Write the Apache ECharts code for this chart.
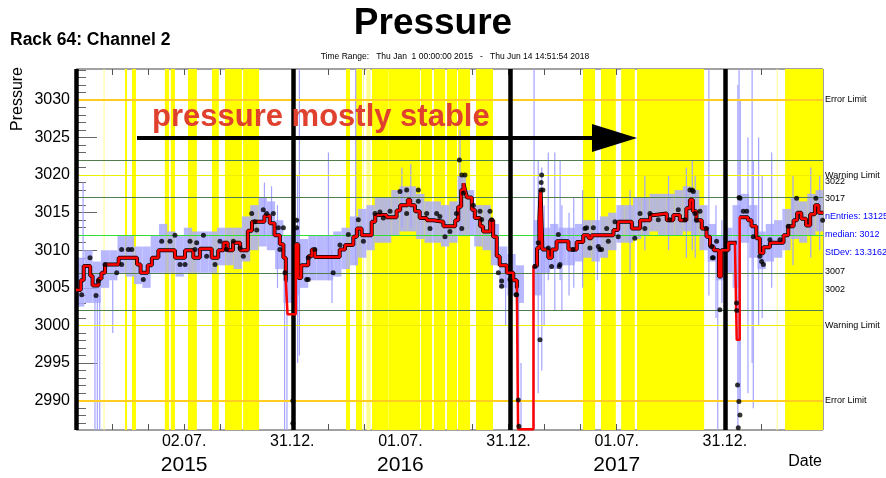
<!DOCTYPE html>
<html>
<head>
<meta charset="utf-8">
<script src="https://cdn.jsdelivr.net/npm/echarts@6/dist/echarts.min.js"></script>
<style>
html, body { margin: 0; padding: 0; background: #fff; }
#chart { width: 886px; height: 478px; }
</style>
</head>
<body>
<div id="chart"></div>
<script>
// x values are days since Thu Jan 1 2015
const X_MAX = 1260.62
const Y_MIN = 2986.1
const Y_MAX = 3034.1

const xLabelDays = [182.5, 365, 547.5, 730, 912.5, 1095]
const xLabelDates = ['02.07.', '31.12.', '01.07.', '31.12.', '01.07.', '31.12.']
const xLabelYears = ['2015', '', '2016', '', '2017', '']
const yLabels = [2990, 2995, 3000, 3005, 3010, 3015, 3020, 3025, 3030]

const errorLimits = [3030, 2990]
const warningLimits = [3020, 3000]
const levelLines = [3022, 3017, 3007, 3002]
const medianLine = 3012
const yearLineDays = [1, 366, 732, 1096]

// yellow periods [start, end]
const yellowBands = [[82.7, 86.1], [94.5, 101.3], [150, 157], [160, 167], [189, 204], [229.5, 241],
  [251.5, 280], [282, 309], [455.6, 462.4], [472.5, 482.6], [499.5, 526.5], [527, 580.5], [582, 601],
  [604, 623], [626, 643], [644.7, 665], [675, 703.7], [855.6, 876], [886, 911], [920, 943],
  [946.8, 1060], [1196.6, 1261]]
const paleBands = [[46.5, 48], [484, 486], [490, 497], [1182.5, 1184]]

// smoothed pressure (red step line) [day, value]
const redSteps = [[0, 3004.7], [8, 3006], [13, 3007.9], [24, 3006.6], [28, 3005.3], [38, 3006.2], [43, 3007],
  [49, 3008.1], [72, 3009], [103, 3008.1], [109, 3007], [121, 3008], [128, 3009], [139, 3010], [167, 3009],
  [184, 3010], [198, 3009], [209, 3010.2], [229, 3009], [240, 3010], [249, 3011], [256, 3010], [265, 3011],
  [277, 3010], [290, 3012.6], [297, 3013.8], [318, 3014.6], [327, 3013.6], [335, 3012], [344, 3010.8],
  [350, 3009], [354, 3006], [357, 3001.5], [371, 3010.8], [375, 3006.3], [380, 3008], [392, 3009.2],
  [398, 3010.1], [403, 3009.1], [445, 3010.1], [454, 3010.7], [468, 3011.8], [474, 3012.9], [482, 3012],
  [499, 3013.8], [505, 3014.7], [524, 3014.4], [541, 3015.3], [547, 3016], [560, 3016.7], [564, 3016],
  [572, 3015.2], [580, 3014.3], [592, 3014], [603, 3013.8], [620, 3013.2], [640, 3014], [645, 3015.8],
  [650, 3018], [654, 3018.9], [657, 3017.8], [660, 3017], [668, 3015.4], [673, 3014.3], [682, 3013.2],
  [687, 3012.5], [699, 3014], [704, 3011.8], [710, 3009.2], [715, 3008], [727, 3007], [738, 3006],
  [744, 3005], [746, 2986.2], [772, 3007.9], [778, 3010.3], [782, 3014.1], [784, 3018], [787, 3010.1],
  [797, 3009], [803, 3010.1], [811, 3011.2], [831, 3010.1], [845, 3011.1], [856, 3012], [865, 3011.6],
  [870, 3012], [907, 3012.7], [915, 3013.8], [938, 3012.9], [952, 3014], [969, 3014.7], [977, 3014.9],
  [997, 3014], [1008, 3014.7], [1019, 3014], [1030, 3015.6], [1036, 3016.7], [1041, 3015.2], [1047, 3014],
  [1056, 3012.9], [1064, 3011.8], [1070, 3010.5], [1076, 3010], [1085, 3006.5], [1089, 3010], [1101, 3011],
  [1112, 3011], [1115, 2998.1], [1120, 3014.4], [1134, 3014], [1140, 3013.2], [1148, 3011.6], [1154, 3009.6],
  [1160, 3010.4], [1171, 3011], [1194, 3012], [1202, 3013.2], [1211, 3014], [1217, 3015], [1224, 3014.2],
  [1232, 3013.3], [1239, 3014.8], [1247, 3016], [1253, 3015], [1261, 3015]]

// daily points [day, value]
const dots = [[9.6, 3004.1], [23.6, 3009], [33.8, 3004], [37.7, 3005.9], [49, 3008.1], [68.7, 3007], [77, 3010.1],
  [77, 3008.1], [88.3, 3010.1], [94, 3010.1], [113.6, 3006.1], [144.6, 3011.2], [158.6, 3011.2], [167, 3012],
  [175.5, 3008.1], [184, 3008.1], [192.4, 3011.2], [200.8, 3010.1], [203.6, 3011], [215, 3012], [220.5, 3009.2],
  [234.6, 3008.1], [243, 3011.2], [254, 3010.1], [265.5, 3011.2], [276.8, 3010.3], [282.4, 3009.2], [296.5, 3014.9],
  [302, 3013.8], [305, 3012.7], [316, 3015.4], [321.8, 3014.9], [333, 3014.9], [341.5, 3013], [344, 3010.1],
  [350, 3013], [352.7, 3007], [366, 2990], [366, 2987], [372.4, 3014], [372.4, 3013], [389.3, 3006.1],
  [392, 3009], [403, 3010.1], [392, 3006.1], [434, 3007], [445.5, 3010.7], [459.6, 3012.1], [476.4, 3014.05],
  [485, 3011.2], [504.6, 3014.9], [513, 3015.1], [518.6, 3014.3], [530, 3015.2], [546.8, 3017.8], [558, 3018],
  [558, 3014.9], [577.7, 3018], [577.7, 3016.5], [591.8, 3014.9], [597.4, 3012.9], [608.6, 3014.9], [614, 3014.5],
  [622.7, 3011.8], [631, 3012.5], [642, 3014.9], [647, 3022], [651, 3020], [656.4, 3020], [653.6, 3017.6],
  [651, 3012.9], [670.5, 3016], [681.8, 3015.2], [684.6, 3014.1], [698.6, 3015.2], [701.4, 3014.05],
  [712.7, 3007], [718.3, 3005.9], [718.3, 3005.2], [732.4, 3006.1], [743.6, 3004.1], [742.5, 3004.1],
  [746.4, 2990.1], [747.5, 2986.6], [774.5, 3007.85], [780, 3011], [783, 2998.1], [784.6, 3018], [785.8, 3020],
  [785, 3019], [788, 3018], [797, 3010.3], [802.6, 3007.85], [815.6, 3007.85], [814, 3012.1], [816.7, 3008.1],
  [839, 3010.1], [859, 3012.9], [861.7, 3013], [867.3, 3010.3], [873, 3013], [881.4, 3010.5], [884, 3010.1],
  [887, 3010.1], [895.5, 3012.9], [898.3, 3011.2], [909.6, 3013.8], [915, 3011.8], [943, 3011.6], [951.8, 3014.9],
  [960, 3012.9], [968.6, 3014.9], [982.7, 3014.05], [1002, 3014.05], [1016.4, 3015.4], [1027.7, 3014.05],
  [1036, 3018], [1040, 3018], [1041.8, 3017.8], [1044.6, 3014.9], [1053, 3015.2], [1047, 3014], [1064, 3012.9],
  [1072.7, 3010.5], [1074, 3009], [1075.5, 3009], [1081, 3011.2], [1086.6, 3002.1], [1114.75, 3003], [1115, 3002],
  [1116.4, 2992.1], [1118.7, 2989.9], [1120.4, 2988.1], [1117.6, 2986.4], [1119, 3017], [1120.5, 3016.9],
  [1126, 3015.2], [1131.8, 3015.2], [1143, 3011.8], [1154, 3009.2], [1157, 3008.5], [1160, 3008.1],
  [1171, 3011.4], [1188, 3011.4], [1202, 3013.2], [1216, 3016.9], [1248.6, 3016.9], [1260, 3014]]

// raw readings: dense spread per two weeks [start, low, high]
const rawSpread = [[0, 3002.5, 3009], [14, 3003, 3010], [28, 3003, 3008.5], [42, 3005, 3010], [56, 3006, 3010],
  [70, 3007, 3012], [84, 3006.5, 3012], [98, 3005.5, 3010.5], [112, 3005, 3010.5], [126, 3007, 3012],
  [140, 3007, 3013.5], [154, 3007, 3012.5], [168, 3006.5, 3012], [182, 3007, 3013], [196, 3007, 3012.5],
  [210, 3007, 3012.5], [224, 3007, 3012.5], [238, 3008, 3013], [252, 3008, 3013], [266, 3007.5, 3013],
  [280, 3008.5, 3014.5], [294, 3010, 3016], [308, 3010.5, 3017], [322, 3010, 3016.5], [336, 3007.5, 3014],
  [350, 3003, 3012], [364, 3004, 3013], [378, 3005, 3011.5], [392, 3006, 3012], [406, 3006, 3012],
  [420, 3006, 3012], [434, 3006.5, 3012.5], [448, 3007.5, 3013], [462, 3008, 3014.5], [476, 3009, 3015.5],
  [490, 3010, 3016], [504, 3011, 3017], [518, 3011, 3017], [532, 3012, 3018], [546, 3012.5, 3018.5],
  [560, 3012.5, 3018.5], [574, 3011.5, 3017.5], [588, 3011, 3016.5], [602, 3011, 3016.5], [616, 3010.5, 3016],
  [630, 3011, 3016.5], [644, 3012, 3020], [658, 3012, 3018], [672, 3010.5, 3016], [686, 3010, 3016],
  [700, 3008, 3013.5], [714, 3005, 3010.5], [728, 3004, 3009.5], [742, 3003, 3008],
  [772, 3004, 3014], [786, 3007, 3013], [800, 3007.5, 3013.5], [814, 3008, 3013], [828, 3008, 3013],
  [842, 3008.5, 3013.5], [856, 3009, 3014], [870, 3008.5, 3014], [884, 3009, 3014.5], [898, 3010, 3015],
  [912, 3011, 3016], [926, 3011, 3016], [940, 3011.5, 3017], [954, 3012, 3017], [968, 3012.5, 3017.5],
  [982, 3012, 3017.5], [996, 3012, 3017.5], [1010, 3012, 3018], [1024, 3012.5, 3018.5], [1038, 3012, 3018],
  [1052, 3010, 3016], [1066, 3008.5, 3013.5], [1080, 3006, 3012], [1094, 3007, 3013], [1108, 3005, 3016],
  [1122, 3011, 3017.5], [1136, 3009, 3016], [1150, 3007.5, 3012.5], [1164, 3008.5, 3013.5], [1178, 3009, 3014],
  [1192, 3010, 3015.5], [1206, 3011.5, 3017], [1220, 3011, 3016.5], [1234, 3012, 3017.5], [1248, 3012.5, 3018]]

// single raw excursions [day, low, high]
const rawSpikes = [[12, 3006, 3019], [32, 2986, 3004], [36, 2986, 3004], [40, 2986, 3004], [62, 2999, 3006],
  [318, 3012, 3019], [330, 3012, 3018.5], [340, 3005, 3016], [352, 2986, 3010], [356, 2986, 3008],
  [374, 2995, 3020], [377, 2996, 3034.1], [426, 3006, 3023], [432, 3003, 3010], [472, 3008, 3034.1],
  [550, 3013, 3021], [565, 3013, 3021.5], [648, 3012, 3026], [725, 3000, 3008], [735, 3001, 3007],
  [747, 2986, 3006], [751, 2986, 2995], [773, 2986, 3034.1], [780, 2991, 3022], [786, 2994, 3021],
  [790, 3000, 3016], [797, 3006, 3023], [808, 3002, 3023], [817, 3006, 3022], [820, 3002, 3016],
  [832, 3004, 3015], [840, 3005, 3017], [855, 3005, 3018], [880, 3006, 3017], [935, 3007, 3018],
  [960, 3010, 3020], [1000, 3010, 3020], [1030, 3009, 3021], [1040, 3010, 3022], [1045, 3009, 3020],
  [1068, 3004, 3034.1], [1080, 3001, 3016], [1083, 2986, 3008], [1090, 3003, 3014], [1117, 2986, 3032],
  [1119, 2990, 3034.1], [1121, 2990, 3030], [1134, 2991, 3025], [1141, 2995, 3034.1], [1143, 2989, 3022],
  [1152, 3000, 3025], [1158, 3001, 3020], [1174, 3005, 3023], [1210, 3008, 3020], [1240, 3009, 3021],
  [1255, 3010, 3020]]

const FONT = 'Liberation Sans, Arial, sans-serif'
const BIN = 14

const xTicks = []
for (let d = 0; d <= X_MAX; d += 365 / 6) xTicks.push(d)
const yMinor = []
for (let v = 2987; v <= 3034; v++) yMinor.push(v)

const outline = redSteps.map(p => (p[1] < 3003 ? [p[0], '-'] : p))

function bandItem(color) {
  return function (params, api) {
    const a = api.coord([api.value(0), Y_MAX])
    const b = api.coord([api.value(1), Y_MIN])
    return {
      type: 'rect',
      shape: { x: a[0], y: a[1], width: Math.max(1, b[0] - a[0]), height: b[1] - a[1] },
      style: { fill: color }
    }
  }
}

let myChart = echarts.init(document.getElementById('chart'))
myChart.setOption({
  animation: false,
  grid: { left: 76, right: 63, top: 69, bottom: 48, show: true, borderColor: '#444', borderWidth: 1 },
  xAxis: [
    {
      type: 'value',
      min: 0,
      max: X_MAX,
      axisLine: { show: false },
      splitLine: { show: false },
      axisTick: { inside: true, length: 6, customValues: xTicks, lineStyle: { color: '#555' } },
      axisLabel: {
        customValues: xLabelDays,
        margin: 2,
        formatter: v => {
          const i = xLabelDays.findIndex(d => Math.abs(d - v) < 0.01)
          if (i < 0) return ''
          return xLabelYears[i] ? '{d|' + xLabelDates[i] + '}\n{y|' + xLabelYears[i] + '}' : '{d|' + xLabelDates[i] + '}'
        },
        rich: {
          d: { fontSize: 16, fontFamily: FONT, color: '#000', lineHeight: 20 },
          y: { fontSize: 21, fontFamily: FONT, color: '#000', lineHeight: 26 }
        }
      }
    },
    {
      type: 'value',
      position: 'top',
      min: 0,
      max: X_MAX,
      axisLine: { show: false },
      splitLine: { show: false },
      axisTick: { inside: true, length: 6, customValues: xTicks, lineStyle: { color: '#555' } },
      axisLabel: { show: false }
    }
  ],
  yAxis: [
    {
      type: 'value',
      min: Y_MIN,
      max: Y_MAX,
      axisLine: { show: false },
      splitLine: { show: false },
      axisTick: { inside: true, length: 21, customValues: yLabels, lineStyle: { color: '#666' } },
      axisLabel: { customValues: yLabels, formatter: v => String(v), fontSize: 16, fontFamily: FONT, color: '#000', margin: 6 }
    },
    {
      type: 'value',
      min: Y_MIN,
      max: Y_MAX,
      position: 'left',
      axisLine: { show: false },
      splitLine: { show: false },
      axisTick: { inside: true, length: 10, customValues: yMinor, lineStyle: { color: '#666' } },
      axisLabel: { show: false }
    }
  ],
  series: [
    {
      type: 'custom',
      z: 1,
      clip: true,
      silent: true,
      data: yellowBands,
      renderItem: bandItem('#ffff00')
    },
    {
      type: 'custom',
      z: 1,
      clip: true,
      silent: true,
      data: paleBands,
      renderItem: bandItem('#ffff90')
    },
    {
      type: 'line',
      z: 2,
      data: [],
      markLine: {
        silent: true,
        symbol: ['none', 'none'],
        label: { show: false },
        data: [
          ...errorLimits.map(v => ({ yAxis: v, lineStyle: { color: '#ffcc22', width: 2, type: 'solid' } })),
          ...warningLimits.map(v => ({ yAxis: v, lineStyle: { color: '#eeee00', width: 1, type: 'solid' } })),
          ...levelLines.map(v => ({ yAxis: v, lineStyle: { color: '#4f7f4f', width: 1.2, type: 'solid' } })),
          { yAxis: medianLine, lineStyle: { color: '#33dd33', width: 1.2, type: 'solid' } }
        ]
      }
    },
    {
      type: 'custom',
      z: 3,
      clip: true,
      silent: true,
      data: rawSpread,
      renderItem: (params, api) => {
        const a = api.coord([api.value(0), api.value(2)])
        const b = api.coord([api.value(0) + BIN, api.value(1)])
        return {
          type: 'rect',
          shape: { x: a[0], y: a[1], width: b[0] - a[0], height: b[1] - a[1] },
          style: { fill: 'rgba(172,172,255,0.85)' }
        }
      }
    },
    {
      type: 'custom',
      z: 3,
      clip: true,
      silent: true,
      data: rawSpikes,
      renderItem: (params, api) => {
        const a = api.coord([api.value(0), api.value(2)])
        const b = api.coord([api.value(0), api.value(1)])
        return {
          type: 'line',
          shape: { x1: a[0], y1: a[1], x2: b[0], y2: b[1] },
          style: { stroke: '#a4a4ff', lineWidth: 1.2 }
        }
      }
    },
    {
      type: 'line',
      z: 4,
      data: [],
      markLine: {
        silent: true,
        symbol: ['none', 'none'],
        label: { show: false },
        lineStyle: { color: '#000', width: 4.5, type: 'solid' },
        data: yearLineDays.map(d => ({ xAxis: d }))
      }
    },
    {
      type: 'line',
      z: 5,
      step: 'end',
      data: outline,
      symbol: 'none',
      lineStyle: { color: '#000', width: 4 }
    },
    {
      type: 'line',
      z: 6,
      step: 'end',
      data: redSteps,
      symbol: 'none',
      clip: true,
      lineStyle: { color: '#ff0000', width: 2.5 }
    },
    {
      type: 'scatter',
      z: 7,
      data: dots,
      symbolSize: 5,
      itemStyle: { color: '#000' }
    }
  ],
  graphic: [
    { type: 'text', x: 433, y: 24, style: { text: 'Pressure', font: 'bold 37px ' + FONT, fill: '#000', textAlign: 'center', textVerticalAlign: 'middle' } },
    { type: 'text', x: 10, y: 40, style: { text: 'Rack 64: Channel 2', font: 'bold 17.5px ' + FONT, fill: '#000', textAlign: 'left', textVerticalAlign: 'middle' } },
    { type: 'text', x: 455, y: 57, style: { text: 'Time Range:   Thu Jan  1 00:00:00 2015   -   Thu Jun 14 14:51:54 2018', font: '8.5px ' + FONT, fill: '#000', textAlign: 'center', textVerticalAlign: 'middle' } },
    { type: 'text', x: 18, y: 99, rotation: Math.PI / 2, style: { text: 'Pressure', font: '16px ' + FONT, fill: '#000', textAlign: 'center', textVerticalAlign: 'middle' } },
    { type: 'text', x: 822, y: 462, style: { text: 'Date', font: '16px ' + FONT, fill: '#000', textAlign: 'right', textVerticalAlign: 'middle' } },
    { type: 'text', x: 152, y: 117, z: 10, style: { text: 'pressure mostly stable', font: 'bold 31px ' + FONT, fill: '#e0412f', textAlign: 'left', textVerticalAlign: 'middle' } },
    { type: 'line', z: 10, shape: { x1: 137, y1: 138, x2: 598, y2: 138 }, style: { stroke: '#000', lineWidth: 4 } },
    { type: 'polygon', z: 10, shape: { points: [[592, 124], [637, 138], [592, 152]] }, style: { fill: '#000' } },
    { type: 'text', x: 825, y: 100, style: { text: 'Error Limit', font: '9px ' + FONT, fill: '#000', textVerticalAlign: 'middle' } },
    { type: 'text', x: 825, y: 176, style: { text: 'Warning Limit', font: '9px ' + FONT, fill: '#000', textVerticalAlign: 'middle' } },
    { type: 'text', x: 825, y: 182, style: { text: '3022', font: '9px ' + FONT, fill: '#000', textVerticalAlign: 'middle' } },
    { type: 'text', x: 825, y: 199, style: { text: '3017', font: '9px ' + FONT, fill: '#000', textVerticalAlign: 'middle' } },
    { type: 'text', x: 825, y: 217, style: { text: 'nEntries: 131257', font: '9px ' + FONT, fill: '#0000ff', textVerticalAlign: 'middle' } },
    { type: 'text', x: 825, y: 235, style: { text: 'median: 3012', font: '9px ' + FONT, fill: '#0000ff', textVerticalAlign: 'middle' } },
    { type: 'text', x: 825, y: 253, style: { text: 'StDev: 13.3162', font: '9px ' + FONT, fill: '#0000ff', textVerticalAlign: 'middle' } },
    { type: 'text', x: 825, y: 272, style: { text: '3007', font: '9px ' + FONT, fill: '#000', textVerticalAlign: 'middle' } },
    { type: 'text', x: 825, y: 290, style: { text: '3002', font: '9px ' + FONT, fill: '#000', textVerticalAlign: 'middle' } },
    { type: 'text', x: 825, y: 326, style: { text: 'Warning Limit', font: '9px ' + FONT, fill: '#000', textVerticalAlign: 'middle' } },
    { type: 'text', x: 825, y: 401, style: { text: 'Error Limit', font: '9px ' + FONT, fill: '#000', textVerticalAlign: 'middle' } }
  ]
})
</script>
</body>
</html>
